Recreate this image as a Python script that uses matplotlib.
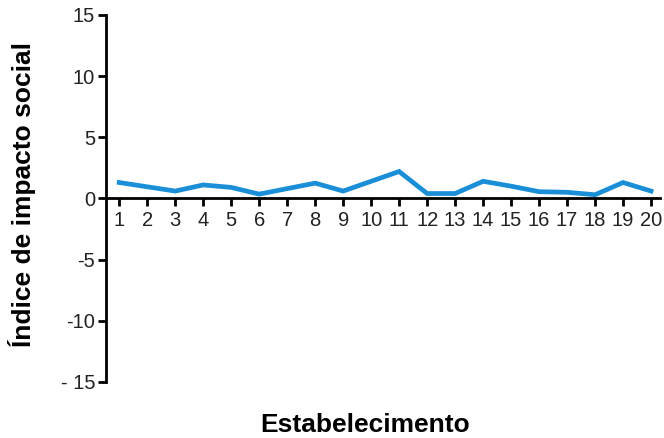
import matplotlib
matplotlib.use('Agg')
import matplotlib.pyplot as plt

plt.rcParams['font.family'] = ['Liberation Sans', 'DejaVu Sans']

estabelecimento = list(range(1, 21))
indice = [1.3, 0.95, 0.6, 1.1, 0.9, 0.35, 0.8, 1.25, 0.6, 1.4,
          2.2, 0.4, 0.4, 1.4, 1.0, 0.55, 0.5, 0.3, 1.3, 0.6]
y_ticks = [-15, -10, -5, 0, 5, 10, 15]
y_tick_labels = ['- 15', '-10', '-5', '0', '5', '10', '15']

fig = plt.figure(figsize=(6.64, 4.38), dpi=100)
ax = fig.add_axes([0.16, 0.128, 0.834, 0.838])

ax.plot(estabelecimento, indice, color='#1a8fd8', linewidth=3.4, solid_joinstyle='miter')

ax.set_xlim(0.536, 20.32)
ax.set_ylim(-15, 15)
ax.set_xticks(estabelecimento)
ax.set_yticks(y_ticks)
ax.set_yticklabels(y_tick_labels)

ax.spines['top'].set_visible(False)
ax.spines['right'].set_visible(False)
ax.spines['bottom'].set_position(('data', 0))
for s in ('left', 'bottom'):
    ax.spines[s].set_linewidth(2)
    ax.spines[s].set_color('black')

ax.tick_params(axis='both', width=2, length=6, labelsize=14.5, colors='black')
ax.tick_params(axis='x', pad=3)
ax.tick_params(axis='y', pad=2)
for lbl in ax.get_xticklabels() + ax.get_yticklabels():
    lbl.set_color('#222222')

fig.text(0.033, 0.555, 'Índice de impacto social', fontsize=19, fontweight='bold',
         rotation=90, ha='center', va='center')
fig.text(0.55, 0.03, 'Estabelecimento', fontsize=19, fontweight='bold', ha='center', va='center')

fig.savefig('out.png', dpi=100)
